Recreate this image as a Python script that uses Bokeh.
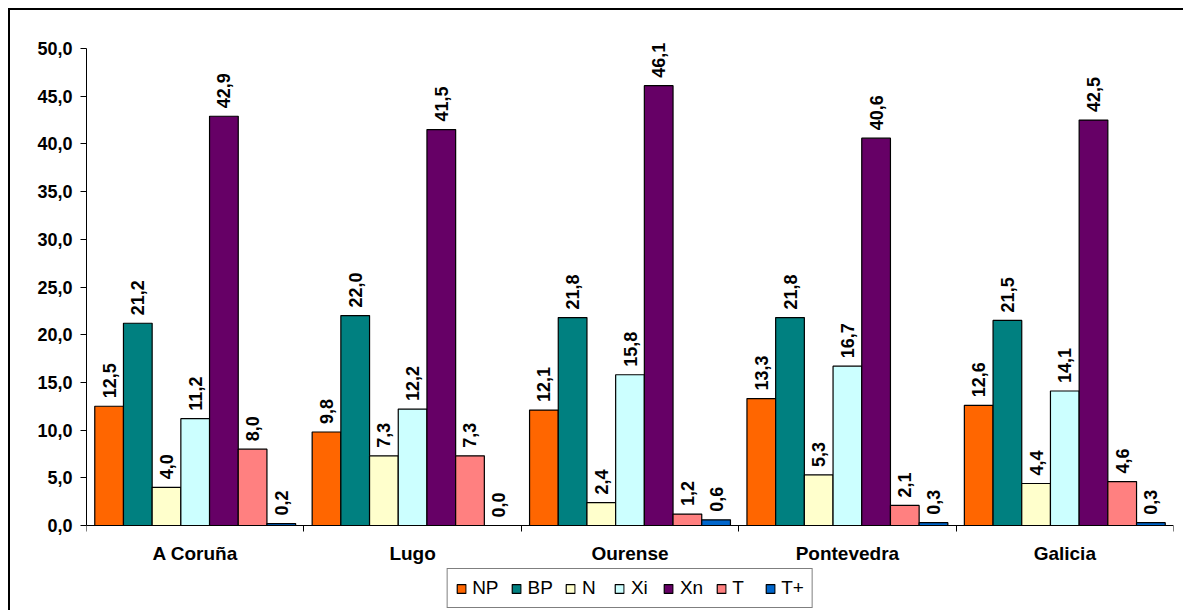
import math
from bokeh.plotting import figure
from bokeh.models import (Range1d, FixedTicker, CustomJSTickFormatter, Legend,
                          ColumnDataSource)
from bokeh.core.properties import value
from bokeh.embed import file_html
from bokeh.resources import INLINE

regions = ["A Coruña", "Lugo", "Ourense", "Pontevedra", "Galicia"]
series = ["NP", "BP", "N", "Xi", "Xn", "T", "T+"]
colors = ["#FF6600", "#008080", "#FFFFCC", "#CCFFFF", "#660066", "#FF8080", "#0066CC"]

NP = [12.5, 9.8, 12.1, 13.3, 12.6]
BP = [21.2, 22.0, 21.8, 21.8, 21.5]
N = [4.0, 7.3, 2.4, 5.3, 4.4]
Xi = [11.2, 12.2, 15.8, 16.7, 14.1]
Xn = [42.9, 41.5, 46.1, 40.6, 42.5]
T = [8.0, 7.3, 1.2, 2.1, 4.6]
Tplus = [0.2, 0.0, 0.6, 0.3, 0.3]
values = [NP, BP, N, Xi, Xn, T, Tplus]

y_ticks = [0, 5, 10, 15, 20, 25, 30, 35, 40, 45, 50]
y_min, y_max = 0, 50

FONT = "Liberation Sans"
n_series = len(series)
bar_w = 0.132

# layout in pixels: value axis spans 477 px, with room above and below it
axis_px, above_px, below_px = 477, 515, 85
y_end = y_max * above_px / axis_px
y_start = -y_max * below_px / axis_px

p = figure(output_backend="svg", toolbar_location=None,
           frame_width=1087, frame_height=above_px + below_px,
           min_border_left=78, min_border_top=2, min_border_right=10,
           min_border_bottom=0,
           x_range=Range1d(0, len(regions)), y_range=Range1d(y_start, y_end),
           styles={"margin-left": "8px", "margin-top": "8px",
                   "box-shadow": "inset 2px 2px 0 0 black"})
p.border_fill_color = None
p.background_fill_color = None
p.outline_line_color = None
p.xgrid.visible = False
p.ygrid.visible = False

items = []
for j, (name, col, vals) in enumerate(zip(series, colors, values)):
    xs = [i + 0.5 + (j - (n_series - 1) / 2) * bar_w for i in range(len(regions))]
    src = ColumnDataSource(dict(x=xs, top=vals,
                                lab=[f"{v:.1f}".replace(".", ",") for v in vals]))
    r = p.vbar(x="x", top="top", width=bar_w, bottom=0, source=src,
               fill_color=col, line_color="black", line_width=1.2)
    p.text(x="x", y="top", text="lab", source=src, angle=math.pi / 2,
           y_offset=-8, text_align="left", text_baseline="middle",
           text_font=value(FONT), text_font_style="bold",
           text_font_size="18px", text_color="black")
    items.append((name, [r]))

# y axis
yax = p.yaxis[0]
yax.ticker = FixedTicker(ticks=y_ticks)
yax.bounds = (y_min, y_max)
yax.formatter = CustomJSTickFormatter(code="return tick.toFixed(1).replace('.', ',');")
yax.major_label_text_font = FONT
yax.major_label_text_font_style = "bold"
yax.major_label_text_font_size = "18px"
yax.major_label_text_color = "black"
yax.major_tick_out = 6
yax.major_tick_in = 0
yax.minor_tick_line_color = None
yax.major_label_standoff = 8
yax.axis_line_color = "black"
yax.major_tick_line_color = "black"

# x axis at y=0: labels at centres, ticks at boundaries (as minor ticks)
xax = p.xaxis[0]
xax.fixed_location = 0
xax.ticker = FixedTicker(ticks=[i + 0.5 for i in range(len(regions))],
                         minor_ticks=list(range(len(regions) + 1)))
xax.major_label_overrides = {i + 0.5: r for i, r in enumerate(regions)}
xax.major_tick_line_color = None
xax.major_tick_out = 0
xax.major_tick_in = 0
xax.minor_tick_out = 6
xax.minor_tick_in = 0
xax.minor_tick_line_color = "black"
xax.axis_line_color = "black"
xax.major_label_text_font = FONT
xax.major_label_text_font_style = "bold"
xax.major_label_text_font_size = "19px"
xax.major_label_text_color = "black"
xax.major_label_standoff = 11

legend = Legend(items=items, orientation="horizontal", location="bottom_center",
                label_text_font=FONT, label_text_font_size="19px",
                label_text_color="black",
                glyph_width=11, glyph_height=11, label_standoff=6, spacing=12,
                padding=8, margin=2, border_line_color="black", border_line_width=1,
                label_height=19, background_fill_color="white")
p.add_layout(legend, "center")

open("out.html", "w").write(file_html(p, INLINE))
